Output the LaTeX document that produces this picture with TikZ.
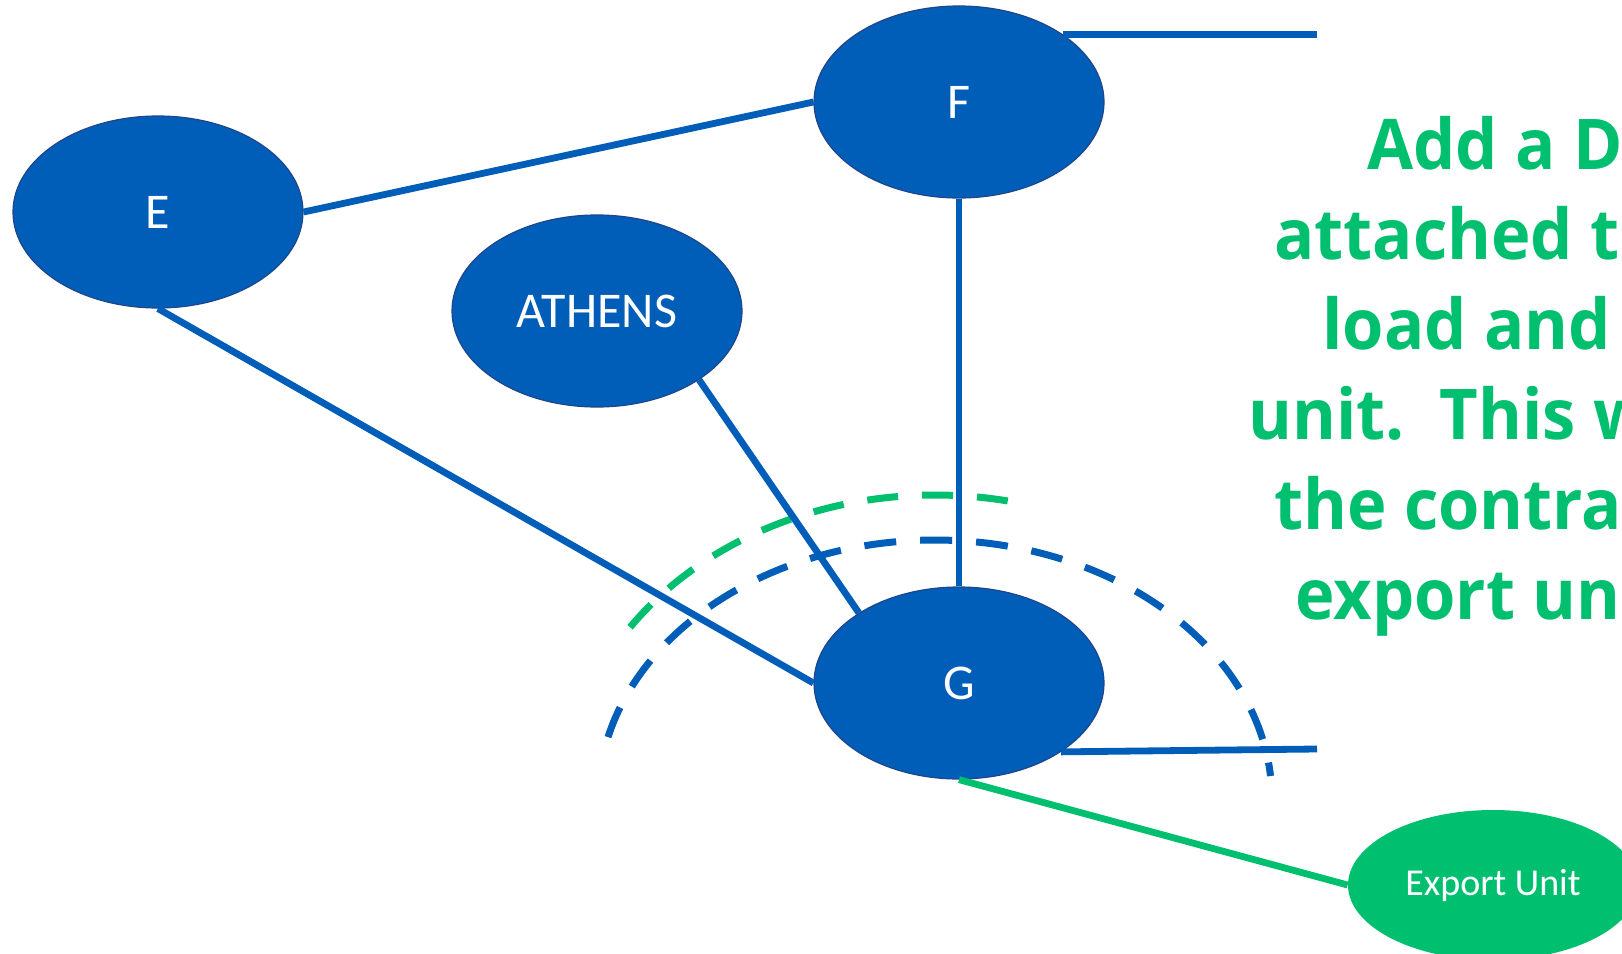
\documentclass[tikz,border=0pt]{standalone}
\usepackage{fontspec}
\setmainfont{Carlito}
\newfontfamily\notefont{Open Sans}[FakeStretch=0.955]
\usetikzlibrary{shapes.geometric}
\definecolor{nblue}{RGB}{0,94,184}
\definecolor{nedge}{RGB}{30,70,140}
\definecolor{ngreen}{RGB}{0,191,111}
\begin{document}
\begin{tikzpicture}[x=0.5pt,y=-0.5pt,
  bnode/.style={ellipse, fill=nblue, draw=nedge, line width=0.6pt, minimum width=145pt, minimum height=96pt, inner sep=0pt, text=white, font=\fontsize{25}{30}\selectfont},
  gnode/.style={ellipse, fill=ngreen, minimum width=145pt, minimum height=75pt, inner sep=0pt, text=white, font=\fontsize{19}{23}\selectfont},
  link/.style={nblue, line width=3.4pt},
  glink/.style={ngreen, line width=3.4pt},
  barc/.style={nblue, line width=3.5pt, dash pattern=on 16pt off 12pt},
  garc/.style={ngreen, line width=3.5pt, dash pattern=on 15.5pt off 12pt},
  note/.style={anchor=base west, inner sep=0pt, text=ngreen, font=\notefont\bfseries\fontsize{35}{45}\selectfont}]
\useasboundingbox[fill=white] (0,0) rectangle (1622,953);

% dashed arcs
\draw[garc] plot[domain=145.5:77.5, samples=80, smooth] ({935+370*cos(\x)}, {800-305*sin(\x)});
\draw[barc] plot[domain=166:5.3, samples=120, smooth] ({935+337*cos(\x)}, {800-260*sin(\x)});

% nodes
\node[bnode] (E) at (158,212) {E};
\node[bnode] (F) at (959,102) {F};
\node[bnode] (A) at (597,311) {ATHENS};
\node[bnode] (G) at (959,683) {G};
\node[gnode] (X) at (1493,885) {Export Unit};

\coordinate (fR) at (1317,34);
\coordinate (gR) at (1317,749);

% connectors
\draw[link] (E.east) -- (F.west);
\draw[link] (E.south) -- (G.west);
\draw[link] (A.-34) -- (G.145);
\draw[link] (F.south) -- (G.north);
\draw[link] (F.33) -- (F.33 -| fR);
\draw[link] (G.-34) -- (gR);
\draw[glink] (G.south) -- (X.west);

% note text
\node[note] (t1) at (1367,169) {Add a D};
\node[note] (t2) at (1274,259) {attached to};
\node[note] (t3) at (1322,349) {load and};
\node[note] (t4) at (1248,439) {unit.\ \ This w};
\node[note] (t5) at (1274,529) {the contrac};
\node[note] (t6) at (1295,619) {export uni};
\end{tikzpicture}
\end{document}
